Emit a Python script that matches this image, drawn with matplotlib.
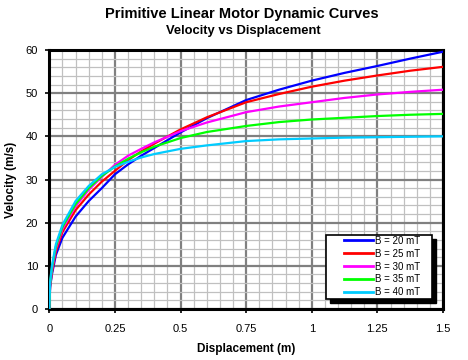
import numpy as np
import matplotlib
matplotlib.use("Agg")
import matplotlib.pyplot as plt
from matplotlib.ticker import MultipleLocator, FixedLocator
from matplotlib.patches import Rectangle

plt.rcParams['font.family'] = ['Liberation Sans', 'DejaVu Sans']

disp = [0, 0.003, 0.01, 0.025, 0.05, 0.1, 0.15, 0.2, 0.25, 0.3, 0.35, 0.4, 0.5, 0.6,
        0.75, 0.875, 1.0, 1.125, 1.25, 1.375, 1.5]

# velocity (m/s) for each field strength
v_20 = [0, 5, 8, 12.5, 16.5, 21.4, 25, 28, 31.2, 33.5, 35.5, 37.3, 40.9, 44.2,
        48.4, 50.8, 52.9, 54.7, 56.3, 58.0, 59.6]
v_25 = [0, 5.3, 8.5, 13.3, 17.8, 22.9, 26.5, 29.5, 32.0, 34.5, 36.5, 38.3, 41.6, 44.4,
        47.9, 49.8, 51.5, 52.9, 54.1, 55.2, 56.1]
v_30 = [0, 5.6, 9, 14, 18.5, 23.8, 27.6, 30.6, 33.4, 35.5, 37.1, 38.6, 41.2, 43.2,
        45.6, 46.9, 47.9, 48.9, 49.7, 50.3, 50.8]
v_35 = [0, 5.9, 9.5, 14.5, 19, 24.3, 28, 30.8, 33.0, 34.8, 36.3, 37.6, 39.6, 41.0,
        42.4, 43.3, 43.9, 44.3, 44.7, 45.0, 45.2]
v_40 = [0, 6.2, 10, 15, 19.5, 25, 28.5, 31.2, 32.9, 34.1, 35.1, 35.9, 37.1, 37.9,
        38.9, 39.3, 39.5, 39.7, 39.8, 39.9, 40.0]

labels = ['B = 20 mT', 'B = 25 mT', 'B = 30 mT', 'B = 35 mT', 'B = 40 mT']
colors = ['#0000FF', '#FF0000', '#FF00FF', '#00FF00', '#00CCFF']

x_ticks = [0, 0.25, 0.5, 0.75, 1, 1.25, 1.5]
x_ticklabels = ['0', '0.25', '0.5', '0.75', '1', '1.25', '1.5']

fig = plt.figure(figsize=(4.68, 3.6), dpi=100)
ax = fig.add_axes([49.3/468, 51/360, 393.7/468, 259/360])

for v, lab, col in zip([v_20, v_25, v_30, v_35, v_40], labels, colors):
    ax.plot(disp, v, color=col, lw=1.6, label=lab, zorder=3)

ax.set_xlim(0, 1.5)
ax.set_ylim(0, 60)
ax.xaxis.set_major_locator(FixedLocator(x_ticks))
ax.set_xticklabels(x_ticklabels)
ax.xaxis.set_minor_locator(MultipleLocator(0.05))
ax.yaxis.set_major_locator(MultipleLocator(10))
ax.yaxis.set_minor_locator(MultipleLocator(2))

ax.grid(which='minor', color='#C0C0C0', lw=0.9)
ax.grid(which='major', color='#808080', lw=1.6)
ax.set_axisbelow(True)

for s in ax.spines.values():
    s.set_linewidth(2.2)
    s.set_color('black')

ax.tick_params(which='major', direction='out', length=3, width=1.2, labelsize=8, pad=5)
ax.tick_params(axis='x', which='major', pad=8)
ax.tick_params(which='minor', length=0)

ax.set_xlabel('Displacement (m)', fontsize=8.5, fontweight='bold', labelpad=6)
ax.set_ylabel('Velocity (m/s)', fontsize=8.5, fontweight='bold', labelpad=6)

fig.text(242/468, 1 - 14/360, 'Primitive Linear Motor Dynamic Curves', ha='center', va='center',
         fontsize=10.5, fontweight='bold')
fig.text(243/468, 1 - 31/360, 'Velocity vs Displacement', ha='center', va='center',
         fontsize=9.4, fontweight='bold')

# legend box with a hard black shadow, drawn by hand
bx0, bx1, by0, by1 = 0.703, 0.972, 0.0386, 0.2857
sx, sy = 4/393.7, 4/259
ax.add_patch(Rectangle((bx0 + sx, by0 - sy), bx1 - bx0, by1 - by0, transform=ax.transAxes,
                       facecolor='black', edgecolor='black', zorder=5, clip_on=False))
ax.add_patch(Rectangle((bx0, by0), bx1 - bx0, by1 - by0, transform=ax.transAxes,
                       facecolor='white', edgecolor='black', lw=1.2, zorder=6, clip_on=False))

leg = ax.legend(loc='upper left', bbox_to_anchor=(0.749, 0.283), borderaxespad=0,
                fontsize=7, frameon=False, handlelength=3.0, handletextpad=0.15,
                labelspacing=0.3, borderpad=0)
leg.set_zorder(7)
for line in leg.get_lines():
    line.set_linewidth(2)

fig.savefig('out.png', dpi=100)
